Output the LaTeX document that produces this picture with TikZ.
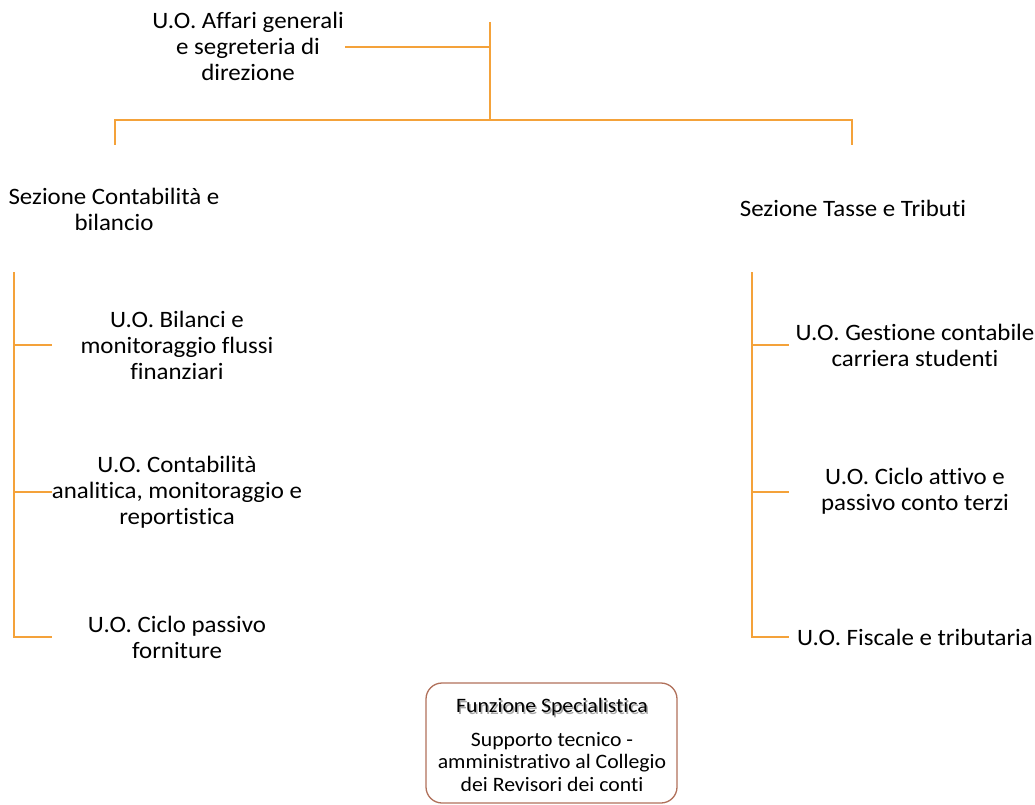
\documentclass[tikz,border=0pt]{standalone}
\usepackage{fontspec}
\setmainfont[FakeStretch=1.06,Ligatures={NoCommon}]{Carlito}
\definecolor{orgline}{HTML}{F4A23A}
\definecolor{boxline}{HTML}{B0705A}
\begin{document}
\begin{tikzpicture}[x=1pt,y=-1pt,
  lbl/.style={align=center,inner sep=0pt,font=\fontsize{23.5}{26}\selectfont},
  small/.style={align=center,inner sep=0pt,font=\fontsize{20.5}{22.5}\selectfont},
  conn/.style={draw=orgline,line width=1.5pt}]
\useasboundingbox (0,0) rectangle (1035,805);
% top
\node[lbl] (top) at (248,46) {U.O. Affari generali\\e segreteria di\\direzione};
\coordinate (tj) at (490,47);
\coordinate (tt) at (490,22);
\coordinate (tb) at (490,120);
\coordinate (hl) at (115,120);
\coordinate (hr) at (852,120);
\coordinate (dl) at (115,145);
\coordinate (dr) at (852,145);
\draw[conn] (345,47) -- (tj);
\draw[conn] (tt) -- (tb);
\draw[conn] (dl) -- (hl) -- (hr) -- (dr);
% sections
\node[lbl] (secL) at (114,209) {Sezione Contabilità e\\bilancio};
\node[lbl] (secR) at (853,208) {Sezione Tasse e Tributi};
% left branch
\coordinate (lt) at (14,272);
\coordinate (lb) at (14,637);
\node[lbl] (l1) at (177,345) {U.O. Bilanci e\\monitoraggio flussi\\finanziari};
\node[lbl] (l2) at (177,492) {U.O. Contabilità\\analitica, monitoraggio e\\reportistica};
\node[lbl] (l3) at (177,637) {U.O. Ciclo passivo\\forniture};
\draw[conn] (lt) -- (lb) -- (52,637);
\draw[conn] (14,345) -- (52,345);
\draw[conn] (14,492) -- (52,492);
% right branch
\coordinate (rt) at (752,272);
\coordinate (rb) at (752,637);
\node[lbl] (r1) at (915,345) {U.O. Gestione contabile\\carriera studenti};
\node[lbl] (r2) at (915,491) {U.O. Ciclo attivo e\\passivo conto terzi};
\node[lbl] (r3) at (915,637) {U.O. Fiscale e tributaria};
\draw[conn] (rt) -- (rb) -- (789,637);
\draw[conn] (752,345) -- (789,345);
\draw[conn] (752,492) -- (789,492);
% box
\draw[boxline,line width=1.3pt,rounded corners=16pt] (426,683) rectangle (677,803);
\node[small,text=black!35] at (553.5,709) {Funzione Specialistica};
\node[small] (ftitle) at (552,707) {Funzione Specialistica};
\node[small] (fbody) at (552,762) {Supporto tecnico -\\amministrativo al Collegio\\dei Revisori dei conti};
\end{tikzpicture}
\end{document}
